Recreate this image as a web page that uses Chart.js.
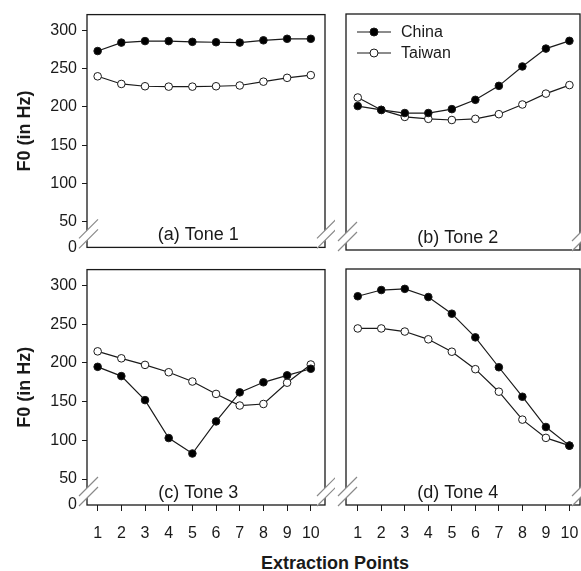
<!DOCTYPE html>
<html>
<head>
<meta charset="utf-8">
<script src="https://cdn.jsdelivr.net/npm/chart.js@4"></script>
<style>
  body { margin: 0; background: #fff; overflow: hidden; width: 581px; height: 571px; position: relative; }
  canvas { position: absolute; }
  #xtitle { position: absolute; left: 235px; width: 200px; top: 552px; text-align: center;
            font: bold 18px 'Liberation Sans', Arial, sans-serif; color: #1a1a1a; line-height: 22px; }
</style>
</head>
<body>
<canvas id="pa" width="335" height="262" style="left:0;top:0"></canvas>
<canvas id="pb" width="260" height="262" style="left:336px;top:0"></canvas>
<canvas id="pc" width="335" height="290" style="left:0;top:255px"></canvas>
<canvas id="pd" width="260" height="290" style="left:336px;top:255px"></canvas>
<div id="xtitle">Extraction Points</div>
<script>
// extraction points 1..10
const points = [1, 2, 3, 4, 5, 6, 7, 8, 9, 10];
const yTickVals = [0, 50, 100, 150, 200, 250, 300];
const seriesNames = ['China', 'Taiwan'];

// F0 values (Hz)
const chinaT1  = [273, 284, 286, 286, 285, 284.5, 284, 287, 289, 289];
const taiwanT1 = [240, 230, 227, 226.5, 226.5, 227, 228, 233, 238, 241.5];
const chinaT2  = [202, 197, 193, 193, 198, 210, 228, 253, 276, 286];
const taiwanT2 = [213, 197, 188, 185.5, 184, 185.5, 191.5, 204, 218, 229];
const chinaT3  = [195, 183, 152, 103, 83, 124.5, 162, 175, 184, 192.5];
const taiwanT3 = [215, 206, 197.5, 188, 176, 160, 145, 147, 174.5, 198];
const chinaT4  = [285.5, 293.5, 295, 284.5, 263, 232.5, 194, 156, 117, 93];
const taiwanT4 = [244, 244, 240, 230, 214, 191.5, 162.5, 126.5, 103, 93];

const FONT = "'Liberation Sans', Arial, sans-serif";
const INK = '#1a1a1a';
const yBottom = 16.5;   // broken axis: the "0" sits at the bottom of the frame
const yTop = 320.6;

function drawBreak(ctx, x, b) {
  ctx.save();
  ctx.fillStyle = '#fff';
  ctx.beginPath();
  ctx.moveTo(x - 8, b + 1); ctx.lineTo(x + 11, b - 18);
  ctx.lineTo(x + 11, b - 28); ctx.lineTo(x - 8, b - 9);
  ctx.closePath(); ctx.fill();
  ctx.strokeStyle = '#8a8a8a';
  ctx.lineWidth = 1.2;
  ctx.beginPath();
  ctx.moveTo(x - 8, b + 1); ctx.lineTo(x + 11, b - 18);
  ctx.moveTo(x - 8, b - 9); ctx.lineTo(x + 11, b - 28);
  ctx.stroke();
  ctx.restore();
}

// frame, axis breaks and the panel caption
const framePlugin = {
  id: 'frame',
  beforeDatasetsDraw(chart, args, opts) {
    const {ctx, chartArea: a} = chart;
    ctx.save();
    ctx.strokeStyle = INK;
    ctx.lineWidth = 1.3;
    ctx.strokeRect(a.left, a.top, a.right - a.left, a.bottom - a.top);
    ctx.restore();
    drawBreak(ctx, a.left, a.bottom);
    drawBreak(ctx, a.right, a.bottom);
    ctx.save();
    ctx.font = '18px ' + FONT;
    ctx.fillStyle = INK;
    ctx.textAlign = 'center';
    ctx.textBaseline = 'middle';
    ctx.fillText(opts.label, chart.scales.x.getPixelForValue(5.25), a.bottom - 12);
    ctx.restore();
  },
  afterDraw(chart, args, opts) {
    if (!opts.legend) return;
    const {ctx, chartArea: a} = chart;
    const ds = chart.data.datasets;
    ctx.save();
    ds.forEach((d, i) => {
      const y = a.top + 18 + i * 21;
      const x0 = a.left + 11;
      ctx.strokeStyle = INK; ctx.lineWidth = 1.2;
      ctx.beginPath(); ctx.moveTo(x0, y); ctx.lineTo(x0 + 34, y); ctx.stroke();
      ctx.beginPath(); ctx.arc(x0 + 17, y, 4, 0, Math.PI * 2);
      ctx.fillStyle = d.pointBackgroundColor; ctx.fill();
      ctx.lineWidth = 1; ctx.stroke();
      ctx.fillStyle = INK;
      ctx.font = '16px ' + FONT;
      ctx.textAlign = 'left'; ctx.textBaseline = 'middle';
      ctx.fillText(d.label, x0 + 44, y + 1);
    });
    ctx.restore();
  }
};

function makePanel(id, china, taiwan, label, o) {
  const toXY = arr => arr.map((v, i) => ({x: points[i], y: v}));
  const mk = (name, vals, fill) => ({
    label: name, data: toXY(vals),
    borderColor: INK, borderWidth: 1.2,
    pointRadius: 3.8, pointBorderWidth: 1,
    pointBackgroundColor: fill, pointBorderColor: INK,
    tension: 0
  });
  new Chart(document.getElementById(id), {
    type: 'line',
    data: { datasets: [mk(seriesNames[0], china, '#000'), mk(seriesNames[1], taiwan, '#fff')] },
    plugins: [framePlugin],
    options: {
      responsive: false, animation: false,
      layout: { padding: o.padding },
      plugins: {
        legend: { display: false }, tooltip: { enabled: false },
        frame: { label: label, legend: o.legend }
      },
      scales: {
        x: {
          type: 'linear', min: o.xmin, max: o.xmax,
          display: o.showX,
          afterBuildTicks: s => { s.ticks = points.map(v => ({value: v})); },
          afterFit: s => { s.height = o.showX ? 35 : 0; },
          ticks: { font: {family: FONT, size: 16}, color: INK, padding: 13, maxRotation: 0 },
          grid: { drawOnChartArea: false, drawTicks: true, tickLength: 6, color: INK, lineWidth: 1 },
          border: { display: false }
        },
        y: {
          type: 'linear', min: yBottom, max: yTop,
          display: o.showY,
          afterBuildTicks: s => { s.ticks = yTickVals.map(v => ({value: v === 0 ? yBottom : v})); },
          afterFit: s => { s.width = o.showY ? 87 : 0; },
          ticks: {
            font: {family: FONT, size: 16}, color: INK, padding: 5,
            callback: v => v < 50 ? '0' : String(v)
          },
          grid: {
            drawOnChartArea: false, drawTicks: true, tickLength: 5, lineWidth: 1,
            color: c => (c.tick && c.tick.value < 50) ? 'rgba(0,0,0,0)' : INK
          },
          border: { display: false },
          title: { display: true, text: 'F0 (in Hz)', color: INK,
                   font: {family: FONT, size: 18, weight: 'bold'}, padding: {top: 14, bottom: 0} }
        }
      }
    }
  });
}

makePanel('pa', chinaT1, taiwanT1, '(a) Tone 1',
  {showX: false, showY: true, legend: false, xmin: 0.55, xmax: 10.6,
   padding: {top: 14, right: 10, bottom: 12, left: 0}});
makePanel('pb', chinaT2, taiwanT2, '(b) Tone 2',
  {showX: false, showY: false, legend: true, xmin: 0.5, xmax: 10.45,
   padding: {top: 14, right: 16, bottom: 12, left: 10}});
makePanel('pc', chinaT3, taiwanT3, '(c) Tone 3',
  {showX: true, showY: true, legend: false, xmin: 0.55, xmax: 10.6,
   padding: {top: 14, right: 10, bottom: 5, left: 0}});
makePanel('pd', chinaT4, taiwanT4, '(d) Tone 4',
  {showX: true, showY: false, legend: false, xmin: 0.5, xmax: 10.45,
   padding: {top: 14, right: 16, bottom: 5, left: 10}});
</script>
</body>
</html>
